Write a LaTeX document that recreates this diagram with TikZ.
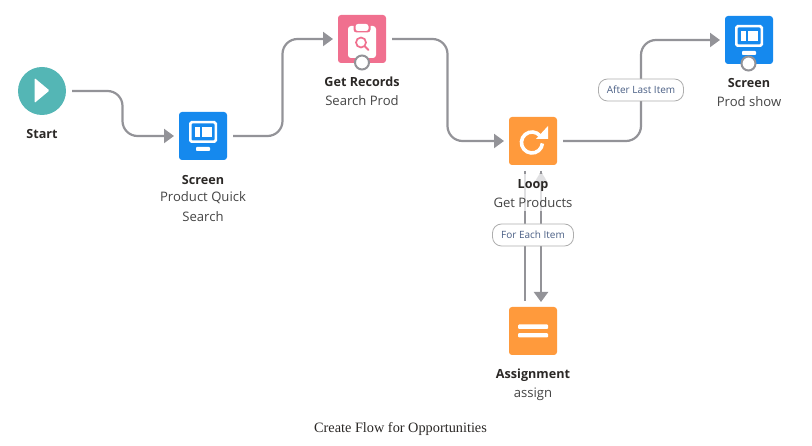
\documentclass[tikz,border=0pt]{standalone}
\usepackage{fontspec}
\setmainfont{Open Sans}
\newfontfamily\capfont{Liberation Serif}
\usetikzlibrary{calc,arrows.meta}
\definecolor{linegray}{HTML}{939398}
\definecolor{txtdark}{HTML}{2B2826}
\definecolor{txtsub}{HTML}{444444}
\definecolor{pillblue}{HTML}{4A5F85}
\definecolor{pillline}{HTML}{AEAEAE}
\definecolor{teal}{HTML}{54B6B5}
\definecolor{blueb}{HTML}{1589EE}
\definecolor{pinkb}{HTML}{F0708F}
\definecolor{orangeb}{HTML}{FF9A3C}
\tikzset{
  x=1pt,y=-1pt,
  iconbox/.style={minimum size=48pt,inner sep=0pt,outer sep=0pt,rounded corners=3pt,fill=#1},
  startnode/.style={circle,minimum size=48pt,inner sep=0pt,outer sep=0pt,fill=teal},
  flow/.style={draw=linegray,line width=2.2pt,rounded corners=15pt,shorten <=6pt,shorten >=5pt,-{Triangle[length=10pt,width=14pt]}},
  plainflow/.style={draw=linegray,line width=2.2pt,shorten <=6pt,shorten >=6pt},
  pill/.style={draw=pillline,line width=.8pt,rounded corners=9pt,fill=white,text=pillblue,font=\fontsize{10}{11}\selectfont,inner sep=0pt,minimum height=22pt},
  titlelbl/.style={text=txtdark,font=\fontsize{12.6}{15}\selectfont\bfseries,inner sep=0pt,anchor=center},
  sublbl/.style={text=txtsub,font=\fontsize{13.1}{15}\selectfont,inner sep=0pt,anchor=center},
  halo/.style={fill=white,fill opacity=.72,inner sep=0pt},
  whiteic/.style={draw=white,line width=2.5pt},
  ring/.style={circle,draw=linegray,line width=2pt,fill=white,minimum size=14pt,inner sep=0pt}
}
\newcommand{\screenicon}[1]{%
  \begin{scope}[shift={(#1)}]
    \draw[whiteic,rounded corners=1.5pt] (-12.75,-13.75) rectangle (12.75,5.75);
    \fill[white] (-8.5,-8.5) rectangle (-3.5,1);
    \fill[white] (-1,-8.5) rectangle (8.5,1);
    \fill[white,rounded corners=.8pt] (-7,11) rectangle (7,15);
  \end{scope}}
\begin{document}
\begin{tikzpicture}
\useasboundingbox (0,0) rectangle (812,446);
% nodes
\node[startnode] (start) at (42,91) {};
\node[iconbox=blueb] (scr1) at (203,136) {};
\node[iconbox=pinkb] (rec) at (362,39) {};
\node[iconbox=orangeb] (loop) at (533,141) {};
\node[iconbox=blueb] (scr2) at (749,40) {};
\node[iconbox=orangeb] (asg) at (533,331) {};
% connectors
\coordinate (m1) at ($(start.east)!.5!(scr1.west)$);
\coordinate (m2) at ($(scr1.east)!.5!(rec.west)$);
\coordinate (m3) at ($(rec.east)!.5!(loop.west)$);
\coordinate (m4) at ($(loop.east)!.5!(scr2.west)$);
\draw[flow] (start.east) -- (m1 |- start.east) -- (m1 |- scr1.west) -- (scr1.west);
\draw[flow] (scr1.east) -- (m2 |- scr1.east) -- (m2 |- rec.west) -- (rec.west);
\draw[flow] (rec.east) -- (m3 |- rec.east) -- (m3 |- loop.west) -- (loop.west);
\draw[flow] (loop.east) -- (m4 |- loop.east) -- (m4 |- scr2.west) -- (scr2.west);
\draw[plainflow] ([xshift=-8pt]loop.south) -- ([xshift=-8pt]asg.north);
\draw[flow] ([xshift=8pt]loop.south) -- ([xshift=8pt]asg.north);
\fill[linegray] (541,171.5) -- (548,183) -- (534,183) -- cycle;
% icons
\fill[white,rounded corners=1pt] (34.5,78) -- (49.5,90.5) -- (34.5,103) -- cycle;
\screenicon{203,136}
\screenicon{749,40}
\fill[white,rounded corners=3pt] (348,26) rectangle (376,58);
\fill[pinkb,rounded corners=3pt] (353.5,20) rectangle (370.5,32.5);
\fill[white,rounded corners=2.5pt] (355.5,24) rectangle (368.5,31);
\draw[pinkb,line width=1.7pt] (361,42.5) circle (5);
\draw[pinkb,line width=2pt,line cap=round] (364.8,46.3) -- (368.5,50);
\draw[white,line width=3.6pt] (540,135.75) arc (-40:-355:10.5);
\fill[white] (548,126) -- (548,139) -- (536,139) -- cycle;
\fill[white,rounded corners=1pt] (518,324.5) rectangle (548,329);
\fill[white,rounded corners=1pt] (518,333.2) rectangle (548,337.5);
\node[ring] (r1) at (362,62.5) {};
\node[ring] (r2) at (748.5,63.5) {};
% labels
\node[titlelbl] (t1) at (42,134) {Start};
\node[titlelbl] (t2) at (203,180) {Screen};
\node[sublbl] (s2) at (203,198) {Product Quick};
\node[sublbl] (s2b) at (203,217) {Search};
\node[titlelbl] (t3) at (362,82) {Get Records};
\node[sublbl] (s3) at (362,101) {Search Prod};
\node[halo,minimum width=82pt,minimum height=37pt] (hl) at (533,192.5) {};
\node[titlelbl] (t4) at (533,185.5) {Loop};
\node[sublbl] (s4) at (533,203) {Get Products};
\node[titlelbl] (t5) at (749,83) {Screen};
\node[sublbl] (s5) at (749,102) {Prod show};
\node[titlelbl] (t6) at (533,375) {Assignment};
\node[sublbl] (s6) at (533,394) {assign};
\node[pill,minimum width=85pt] (p1) at (641,90) {\raisebox{-.7pt}{After Last Item}};
\node[pill,minimum width=81pt] (p2) at (533,235) {\raisebox{-.7pt}{For Each Item}};
\node[text=txtdark,font=\capfont\fontsize{14.3}{16}\selectfont,inner sep=0pt] (cap) at (400.5,428.5) {Create Flow for Opportunities};
\end{tikzpicture}
\end{document}
